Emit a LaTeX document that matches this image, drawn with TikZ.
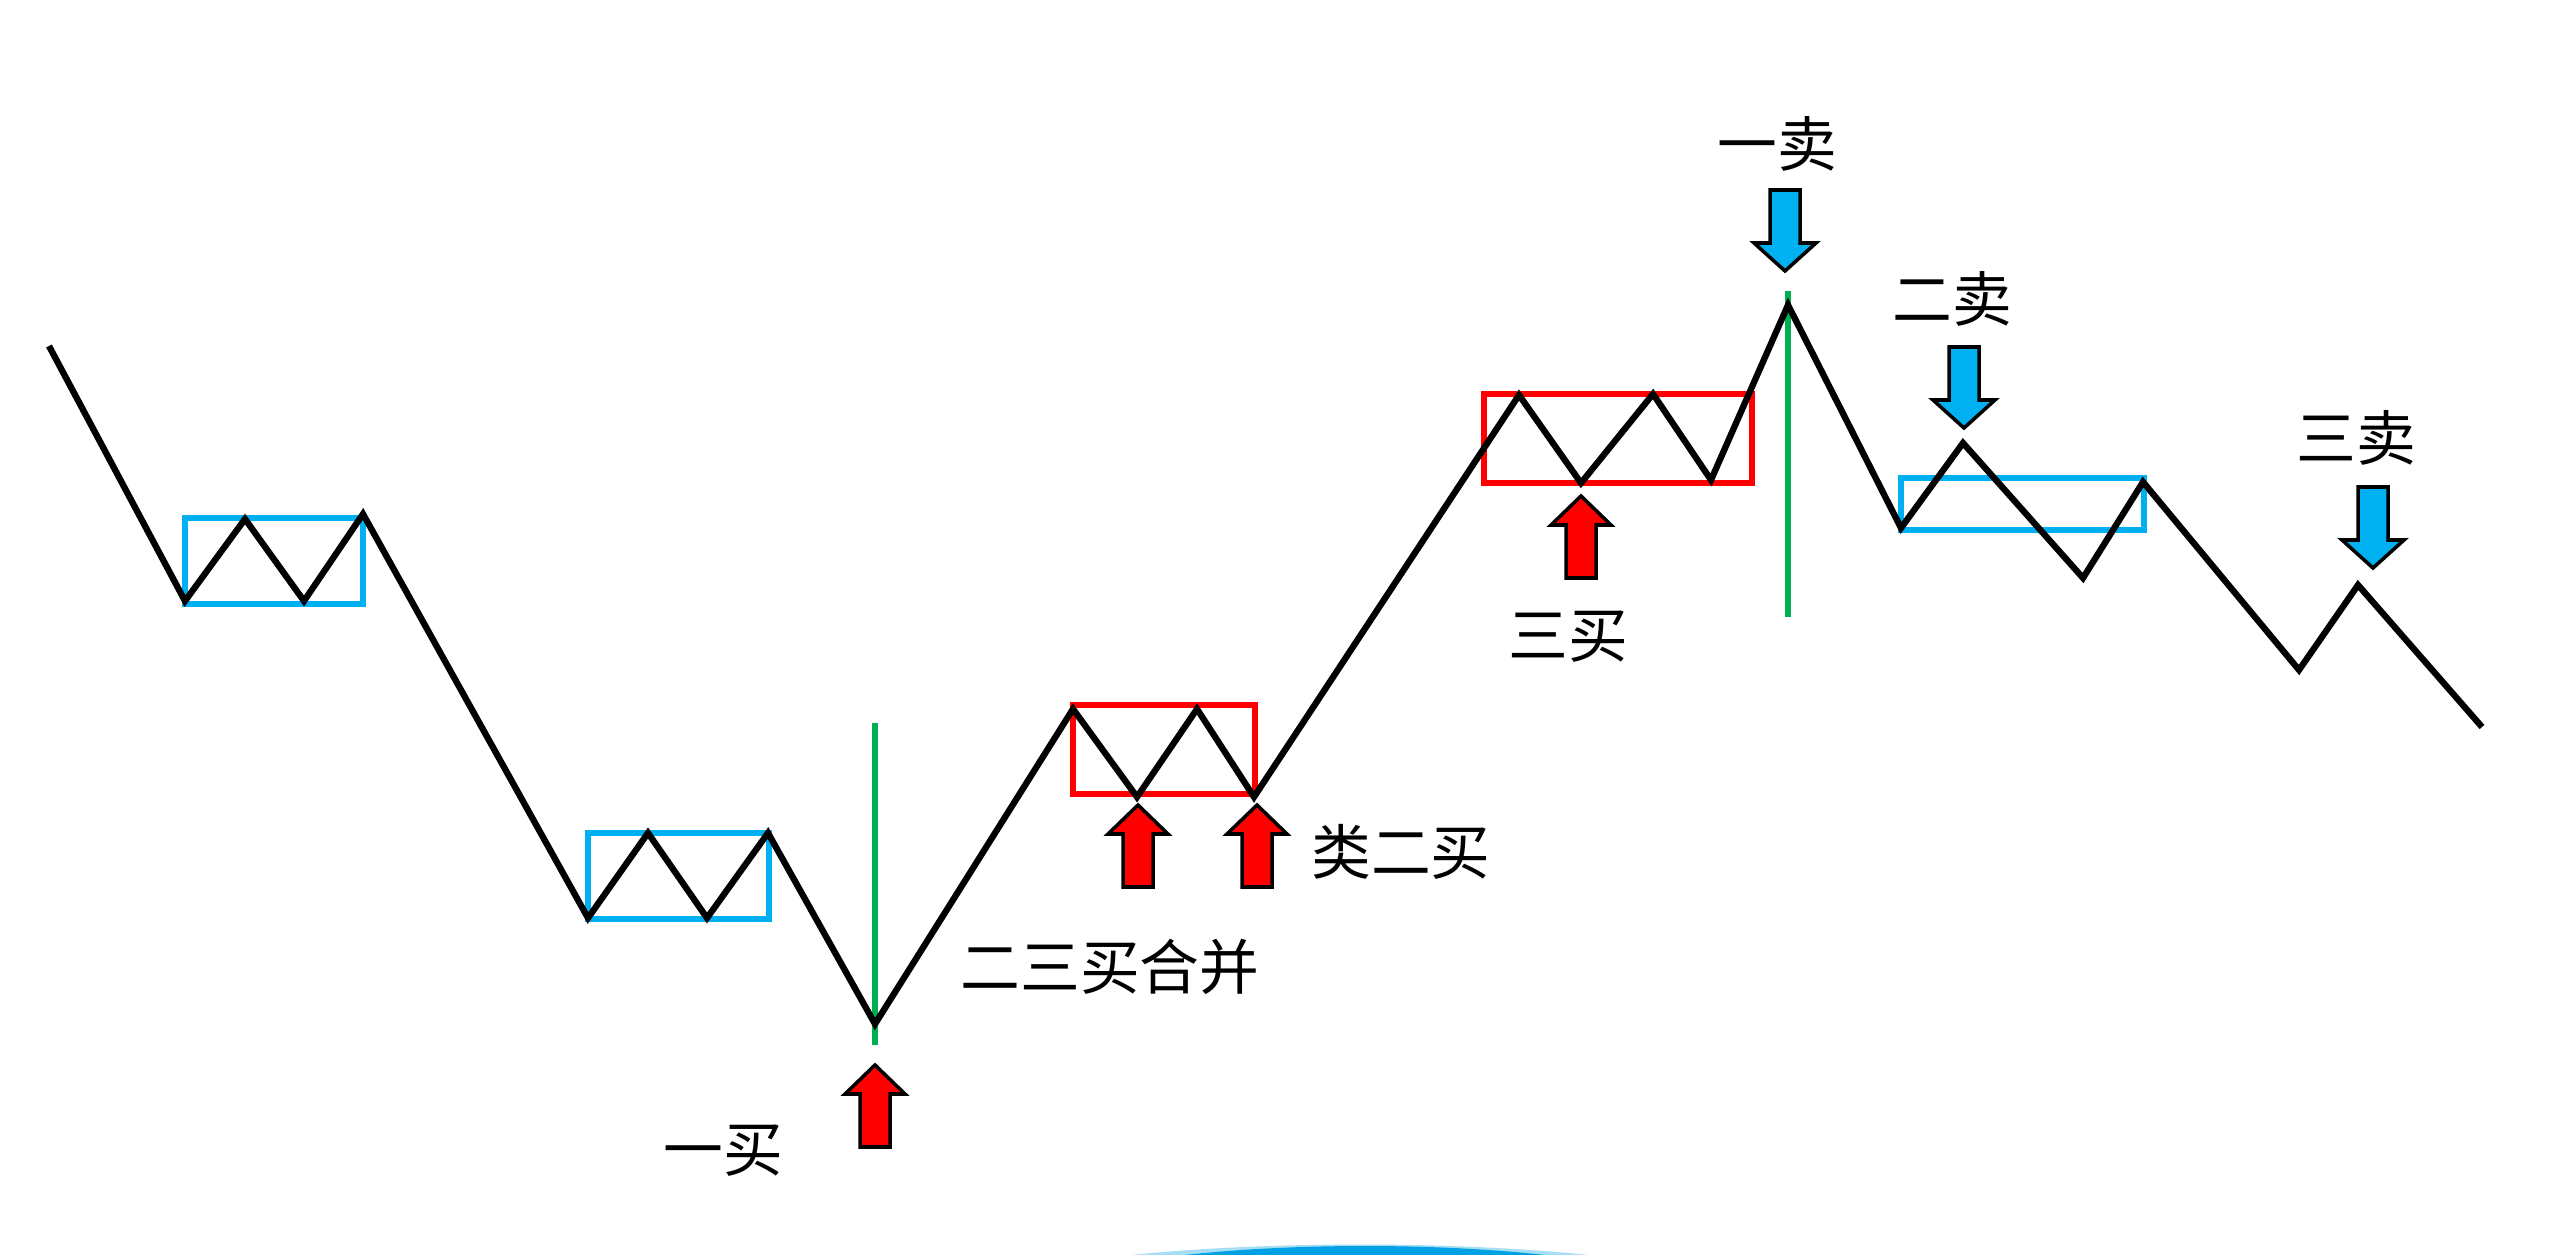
\documentclass[tikz,border=0pt]{standalone}
\usepackage{fontspec}
\newfontfamily\cjk{Noto Sans CJK SC}
\definecolor{boxblue}{RGB}{0,176,240}
\definecolor{boxred}{RGB}{255,0,0}
\definecolor{lgreen}{RGB}{0,176,80}
\definecolor{arcblue}{RGB}{0,160,228}
\tikzset{
  trend/.style={line width=1.8pt, black, line join=miter},
  bluebox/.style={draw=boxblue, line width=1.8pt},
  redbox/.style={draw=boxred, line width=1.8pt},
  mark line/.style={draw=lgreen, line width=1.8pt},
  lbl/.style={font=\cjk\fontsize{17pt}{19pt}\selectfont, inner sep=0pt},
  uparr/.pic={\draw[black, line width=1pt, fill=boxred, line join=miter]
     (0,0) -- (30,29) -- (15,29) -- (15,82) -- (-15,82) -- (-15,29) -- (-30,29) -- cycle;},
  downarr/.pic={\draw[black, line width=1pt, fill=boxblue, line join=miter]
     (0,0) -- (31,-28) -- (15,-28) -- (15,-81) -- (-15,-81) -- (-15,-28) -- (-31,-28) -- cycle;}
}
\begin{document}
\begin{tikzpicture}[x=0.01cm, y=-0.01cm]
\useasboundingbox[fill=white] (0,0) rectangle (2560,1255);
% bottom artifact
\begin{scope}
  \clip (0,0) rectangle (2560,1255);
  \fill[arcblue!35] (1105,1258) .. controls (1250,1240) and (1470,1240) .. (1615,1258) -- cycle;
  \fill[arcblue] (1160,1258) .. controls (1280,1242) and (1450,1242) .. (1570,1258) -- cycle;
\end{scope}
% trend points
\coordinate (p0) at (49,346);
\coordinate (p1) at (185,601);
\coordinate (p2) at (245,519);
\coordinate (p3) at (304,601);
\coordinate (p4) at (363,514);
\coordinate (p5) at (588,918);
\coordinate (p6) at (648,833);
\coordinate (p7) at (707,918);
\coordinate (p8) at (768,833);
\coordinate (p9) at (875,1024);
\coordinate (p10) at (1073,709);
\coordinate (p11) at (1137,797);
\coordinate (p12) at (1197,709);
\coordinate (p13) at (1254,797);
\coordinate (p14) at (1519,395);
\coordinate (p15) at (1581,483);
\coordinate (p16) at (1653,394);
\coordinate (p17) at (1711,480);
\coordinate (p18) at (1788,305);
\coordinate (p19) at (1901,528);
\coordinate (p20) at (1963,443);
\coordinate (p21) at (2083,578);
\coordinate (p22) at (2143,482);
\coordinate (p23) at (2299,670);
\coordinate (p24) at (2358,585);
\coordinate (p25) at (2482,727);
% boxes
\draw[bluebox] (185,518) rectangle (363,604);
\draw[bluebox] (588,833) rectangle (769,919);
\draw[redbox] (1073,705) rectangle (1255,794);
\draw[redbox] (1484,394) rectangle (1752,483);
\draw[bluebox] (1901,478) rectangle (2144,530);
% green lines
\coordinate (g1t) at (875,723); \coordinate (g1b) at (875,1045);
\coordinate (g2t) at (1788,291); \coordinate (g2b) at (1788,617);
\draw[mark line] (g1t) -- (g1b);
\draw[mark line] (g2t) -- (g2b);
% trend line
\draw[trend] (p0) -- (p1) -- (p2) -- (p3) -- (p4) -- (p5) -- (p6) -- (p7) -- (p8) -- (p9)
  -- (p10) -- (p11) -- (p12) -- (p13) -- (p14) -- (p15) -- (p16) -- (p17) -- (p18)
  -- (p19) -- (p20) -- (p21) -- (p22) -- (p23) -- (p24) -- (p25);
% arrows
\pic at (875,1065) {uparr};
\pic at (1138,805) {uparr};
\pic at (1257,805) {uparr};
\pic at (1581,496) {uparr};
\pic at (1785,271) {downarr};
\pic at (1964,428) {downarr};
\pic at (2373,568) {downarr};
% labels
\node[lbl] (l1) at (723,1151) {一买};
\node[lbl] (l2) at (1110,967) {二三买合并};
\node[lbl] (l3) at (1401,852) {类二买};
\node[lbl] (l4) at (1568,637) {三买};
\node[lbl] (l5) at (1777,144) {一卖};
\node[lbl] (l6) at (1952,299) {二卖};
\node[lbl] (l7) at (2356,438) {三卖};
\end{tikzpicture}
\end{document}
